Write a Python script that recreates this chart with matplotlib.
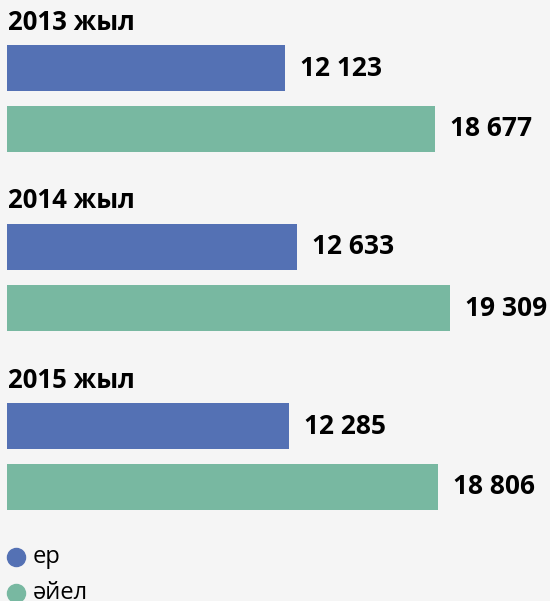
import matplotlib.pyplot as plt

plt.rcParams['font.family'] = ['Open Sans', 'Noto Sans', 'DejaVu Sans']

years = ['2013 жыл', '2014 жыл', '2015 жыл']
men = [12123, 12633, 12285]
women = [18677, 19309, 18806]
labels_men = ['12 123', '12 633', '12 285']
labels_women = ['18 677', '19 309', '18 806']
series_names = ['ер', 'әйел']

blue = '#5471b4'
green = '#78b8a1'
bg = '#f5f5f5'

fig = plt.figure(figsize=(5.5, 6.01), dpi=100, facecolor=bg)
ax = fig.add_axes([0, 0, 1, 1])
ax.set_facecolor(bg)
# x in data units (px scale ~0.0229 per unit), y in pixels from top
scale = 0.02292
ax.set_xlim(-7 / scale, (550 - 7) / scale)
ax.set_ylim(601, 0)
ax.axis('off')

for i, yr in enumerate(years):
    top = 45 + 179 * i
    y_m = top + 23
    y_w = top + 84
    ax.barh(y_m, men[i], height=46, color=blue, left=0)
    ax.barh(y_w, women[i], height=46, color=green, left=0)
    ax.text(0.5 / scale, top - 23, yr, fontsize=18.5, fontweight='bold', va='center', ha='left')
    ax.annotate(labels_men[i], (men[i], y_m), xytext=(15, 0), textcoords='offset pixels',
                fontsize=19, fontweight='bold', va='center', ha='left')
    ax.annotate(labels_women[i], (women[i], y_w), xytext=(15, 0), textcoords='offset pixels',
                fontsize=19, fontweight='bold', va='center', ha='left')

# legend
for j, (name, c) in enumerate(zip(series_names, [blue, green])):
    yy = 557 + 36 * j
    ax.plot([9 / scale], [yy], 'o', color=c, markersize=13)
    ax.text(26 / scale, yy, name, fontsize=17, va='center', ha='left')

plt.savefig('out.png', dpi=100, facecolor=bg)
